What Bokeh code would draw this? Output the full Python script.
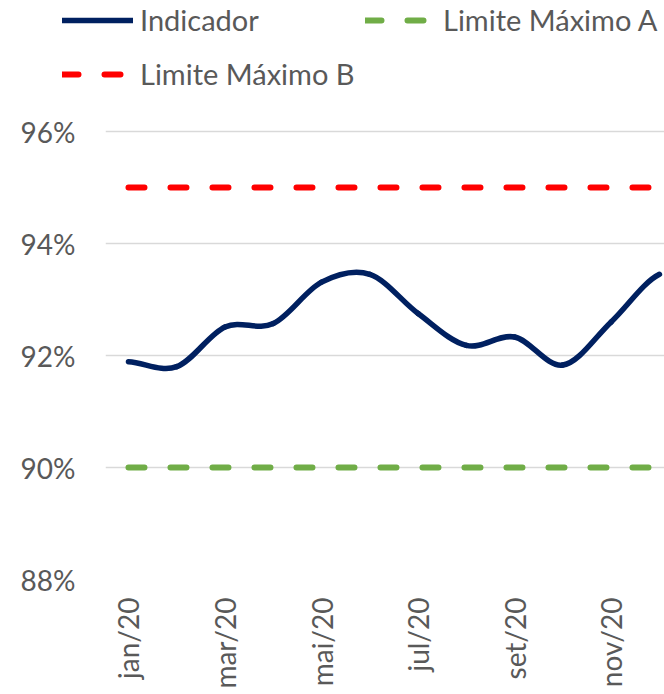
import math
import numpy as np
from bokeh.plotting import figure
from bokeh.layouts import column
from bokeh.models import Range1d, FixedTicker, PrintfTickFormatter, Legend, LegendItem
from bokeh.embed import file_html
from bokeh.resources import INLINE

# ---- data ----
months = ["jan/20", "fev/20", "mar/20", "abr/20", "mai/20", "jun/20",
          "jul/20", "ago/20", "set/20", "out/20", "nov/20", "dez/20"]
indicador = [91.89, 91.80, 92.51, 92.57, 93.31, 93.45,
             92.75, 92.18, 92.33, 91.83, 92.60, 93.45]
limite_a = [90, 90, 90, 90, 90, 90, 90, 90, 90, 90, 90, 90]
limite_b = [95, 95, 95, 95, 95, 95, 95, 95, 95, 95, 95, 95]
y_ticks = [88, 90, 92, 94, 96]
x_tick_idx = [0, 2, 4, 6, 8, 10]

FONT = "Lato"
TXT = "#595959"
NAVY = "#002060"
GREEN = "#70AD47"
RED = "#FF0000"
DASH = "16 26"

# ---------------- main chart ----------------
p = figure(frame_width=559, frame_height=476,
           min_border_left=105, min_border_right=0, min_border_top=0, min_border_bottom=115,
           x_range=Range1d(-0.476, 11.105), y_range=Range1d(88, 96.5),
           output_backend="svg", toolbar_location=None)
p.outline_line_color = None
p.frame_align = False

# smooth line (Excel-style smoothing) built from the data via bezier segments
x = np.arange(len(indicador), dtype=float)
y = np.array(indicador, dtype=float)
yp = np.concatenate([[y[0]], y, [y[-1]]])
m = (yp[2:] - yp[:-2]) / 2.0
x0, y0 = x[:-1], y[:-1]
x1, y1 = x[1:], y[1:]
cx0, cy0 = x0 + 1 / 3, y0 + m[:-1] / 3
cx1, cy1 = x1 - 1 / 3, y1 - m[1:] / 3

p.line(x, limite_b, line_color=RED, line_width=6, line_dash=DASH, line_cap="round")
p.line(x, limite_a, line_color=GREEN, line_width=6, line_dash=DASH, line_cap="round")
p.bezier(x0=x0, y0=y0, x1=x1, y1=y1, cx0=cx0, cy0=cy0, cx1=cx1, cy1=cy1,
         line_color=NAVY, line_width=5.5, line_cap="round")

p.yaxis.ticker = FixedTicker(ticks=y_ticks)
p.yaxis.formatter = PrintfTickFormatter(format="%d%%")
p.xaxis.ticker = FixedTicker(ticks=x_tick_idx)
p.xaxis.major_label_overrides = {i: months[i] for i in x_tick_idx}
p.xaxis.major_label_orientation = math.pi / 2
for ax in (p.xaxis, p.yaxis):
    ax.axis_line_color = None
    ax.major_tick_line_color = None
    ax.minor_tick_line_color = None
    ax.major_tick_out = 0
    ax.major_tick_in = 0
    ax.major_label_text_font = FONT
    ax.major_label_text_font_size = "28px"
    ax.major_label_text_color = TXT
p.yaxis.major_label_standoff = 30
p.xaxis.major_label_standoff = 18

p.xgrid.grid_line_color = None
p.ygrid.grid_line_color = "#D9D9D9"
p.ygrid.grid_line_width = 1.5

# ---------------- legend strip ----------------
# series re-drawn outside the visible ranges, only so the legend has its glyphs
lg_fig = figure(width=664, height=103, min_border=0,
                x_range=Range1d(-10, -9), y_range=Range1d(0, 1),
                x_axis_location=None, y_axis_location=None,
                output_backend="svg", toolbar_location=None)
lg_fig.outline_line_color = None
lg_fig.xgrid.visible = False
lg_fig.ygrid.visible = False
lg_fig.frame_align = False

li = lg_fig.line(x, indicador, line_color=NAVY, line_width=5.5, line_cap="round")
la = lg_fig.line(x, limite_a, line_color=GREEN, line_width=6, line_dash=DASH, line_cap="round")
lb = lg_fig.line(x, limite_b, line_color=RED, line_width=6, line_dash=DASH, line_cap="round")

def mk_legend(label, rend, loc):
    lg = Legend(items=[LegendItem(label=label, renderers=[rend])], location=loc,
                border_line_color=None, background_fill_alpha=0, padding=0, margin=0,
                glyph_width=71, glyph_height=24, label_height=24, label_standoff=7,
                label_text_font=FONT, label_text_font_size="29px", label_text_color=TXT)
    lg_fig.add_layout(lg)

mk_legend("Indicador", li, (62, 66))
mk_legend("Limite Máximo A", la, (365, 66))
mk_legend("Limite Máximo B", lb, (62, 12))

layout = column(lg_fig, p, spacing=0)
open("out.html", "w").write(file_html(layout, INLINE))
